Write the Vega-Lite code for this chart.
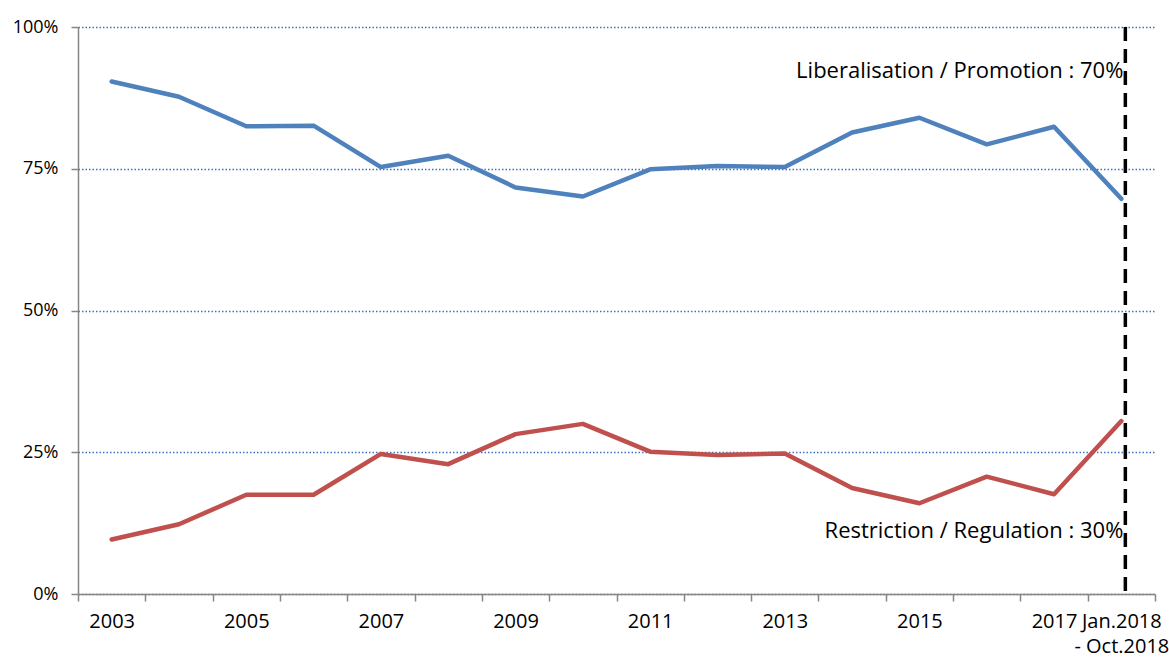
{
  "$schema": "https://vega.github.io/schema/vega-lite/v6.json",
  "autosize": "none",
  "width": 1077,
  "height": 567,
  "padding": {"left": 78, "top": 27, "right": 14, "bottom": 64},
  "background": "white",
  "config": {
    "view": {"stroke": null},
    "font": "Open Sans",
    "axis": {"labelFont": "Open Sans", "labelColor": "#000000"}
  },
  "datasets": {
    "series": [
      {"year": "2003", "series": "Liberalisation / Promotion", "value": 0.904},
      {"year": "2004", "series": "Liberalisation / Promotion", "value": 0.877},
      {"year": "2005", "series": "Liberalisation / Promotion", "value": 0.825},
      {"year": "2006", "series": "Liberalisation / Promotion", "value": 0.826},
      {"year": "2007", "series": "Liberalisation / Promotion", "value": 0.753},
      {"year": "2008", "series": "Liberalisation / Promotion", "value": 0.773},
      {"year": "2009", "series": "Liberalisation / Promotion", "value": 0.717},
      {"year": "2010", "series": "Liberalisation / Promotion", "value": 0.701},
      {"year": "2011", "series": "Liberalisation / Promotion", "value": 0.749},
      {"year": "2012", "series": "Liberalisation / Promotion", "value": 0.755},
      {"year": "2013", "series": "Liberalisation / Promotion", "value": 0.753},
      {"year": "2014", "series": "Liberalisation / Promotion", "value": 0.814},
      {"year": "2015", "series": "Liberalisation / Promotion", "value": 0.840},
      {"year": "2016", "series": "Liberalisation / Promotion", "value": 0.793},
      {"year": "2017", "series": "Liberalisation / Promotion", "value": 0.824},
      {"year": "Jan.2018 - Oct.2018", "series": "Liberalisation / Promotion", "value": 0.697},
      {"year": "2003", "series": "Restriction / Regulation", "value": 0.096},
      {"year": "2004", "series": "Restriction / Regulation", "value": 0.123},
      {"year": "2005", "series": "Restriction / Regulation", "value": 0.175},
      {"year": "2006", "series": "Restriction / Regulation", "value": 0.175},
      {"year": "2007", "series": "Restriction / Regulation", "value": 0.247},
      {"year": "2008", "series": "Restriction / Regulation", "value": 0.229},
      {"year": "2009", "series": "Restriction / Regulation", "value": 0.282},
      {"year": "2010", "series": "Restriction / Regulation", "value": 0.300},
      {"year": "2011", "series": "Restriction / Regulation", "value": 0.251},
      {"year": "2012", "series": "Restriction / Regulation", "value": 0.245},
      {"year": "2013", "series": "Restriction / Regulation", "value": 0.248},
      {"year": "2014", "series": "Restriction / Regulation", "value": 0.187},
      {"year": "2015", "series": "Restriction / Regulation", "value": 0.160},
      {"year": "2016", "series": "Restriction / Regulation", "value": 0.207},
      {"year": "2017", "series": "Restriction / Regulation", "value": 0.176},
      {"year": "Jan.2018 - Oct.2018", "series": "Restriction / Regulation", "value": 0.305}
    ],
    "marker": [{"year": "Jan.2018 - Oct.2018"}],
    "notes": [
      {"year": "Jan.2018 - Oct.2018", "label": "Liberalisation / Promotion : 70%", "value": 0.922},
      {"year": "Jan.2018 - Oct.2018", "label": "Restriction / Regulation : 30%", "value": 0.111}
    ]
  },
  "layer": [
    {
      "data": {"name": "series"},
      "mark": {"type": "line", "strokeWidth": 4.5, "strokeCap": "round", "strokeJoin": "round"},
      "encoding": {
        "x": {
          "field": "year", "type": "nominal", "sort": null, "bandPosition": 0.5,
          "scale": {"type": "band", "paddingInner": 0, "paddingOuter": 0},
          "axis": {
            "title": null,
            "tickBand": "extent",
            "domainColor": "#868686",
            "domainWidth": 1.5,
            "tickColor": "#868686",
            "tickWidth": 1.5,
            "tickSize": 7,
            "labelAngle": 0,
            "labelFontSize": 20,
            "labelPadding": 10,
            "labelOverlap": false,
            "labelLineHeight": 25,
            "labelExpr": "indexof(['2003','2005','2007','2009','2011','2013','2015','2017'], datum.value) >= 0 ? datum.value : (datum.value == 'Jan.2018 - Oct.2018' ? ['Jan.2018', '- Oct.2018'] : '')"
          }
        },
        "y": {
          "field": "value", "type": "quantitative",
          "scale": {"domain": [0, 1]},
          "axis": {
            "title": null,
            "values": [0, 0.25, 0.5, 0.75, 1],
            "format": ".0%",
            "labelFontSize": 18,
            "domainColor": "#868686",
            "domainWidth": 1.5,
            "tickColor": "#868686",
            "tickWidth": 1.5,
            "tickSize": 7,
            "labelPadding": 13,
            "grid": true,
            "gridColor": "#3F72C0",
            "gridDash": [1.5, 2],
            "gridWidth": 1.4
          }
        },
        "color": {
          "field": "series", "type": "nominal",
          "scale": {"domain": ["Liberalisation / Promotion", "Restriction / Regulation"], "range": ["#4F81BD", "#C0504D"]},
          "legend": null
        }
      }
    },
    {
      "data": {"name": "marker"},
      "mark": {"type": "rule", "color": "#000000", "strokeWidth": 3.5, "strokeDash": [14, 8], "xOffset": 4},
      "encoding": {
        "x": {"field": "year", "type": "nominal", "bandPosition": 0.5}
      }
    },
    {
      "data": {"name": "notes"},
      "mark": {"type": "text", "align": "right", "baseline": "middle", "fontSize": 22, "font": "Open Sans", "color": "#000000", "dx": 2},
      "encoding": {
        "x": {"field": "year", "type": "nominal", "bandPosition": 0.5},
        "y": {"field": "value", "type": "quantitative"},
        "text": {"field": "label"}
      }
    }
  ]
}
